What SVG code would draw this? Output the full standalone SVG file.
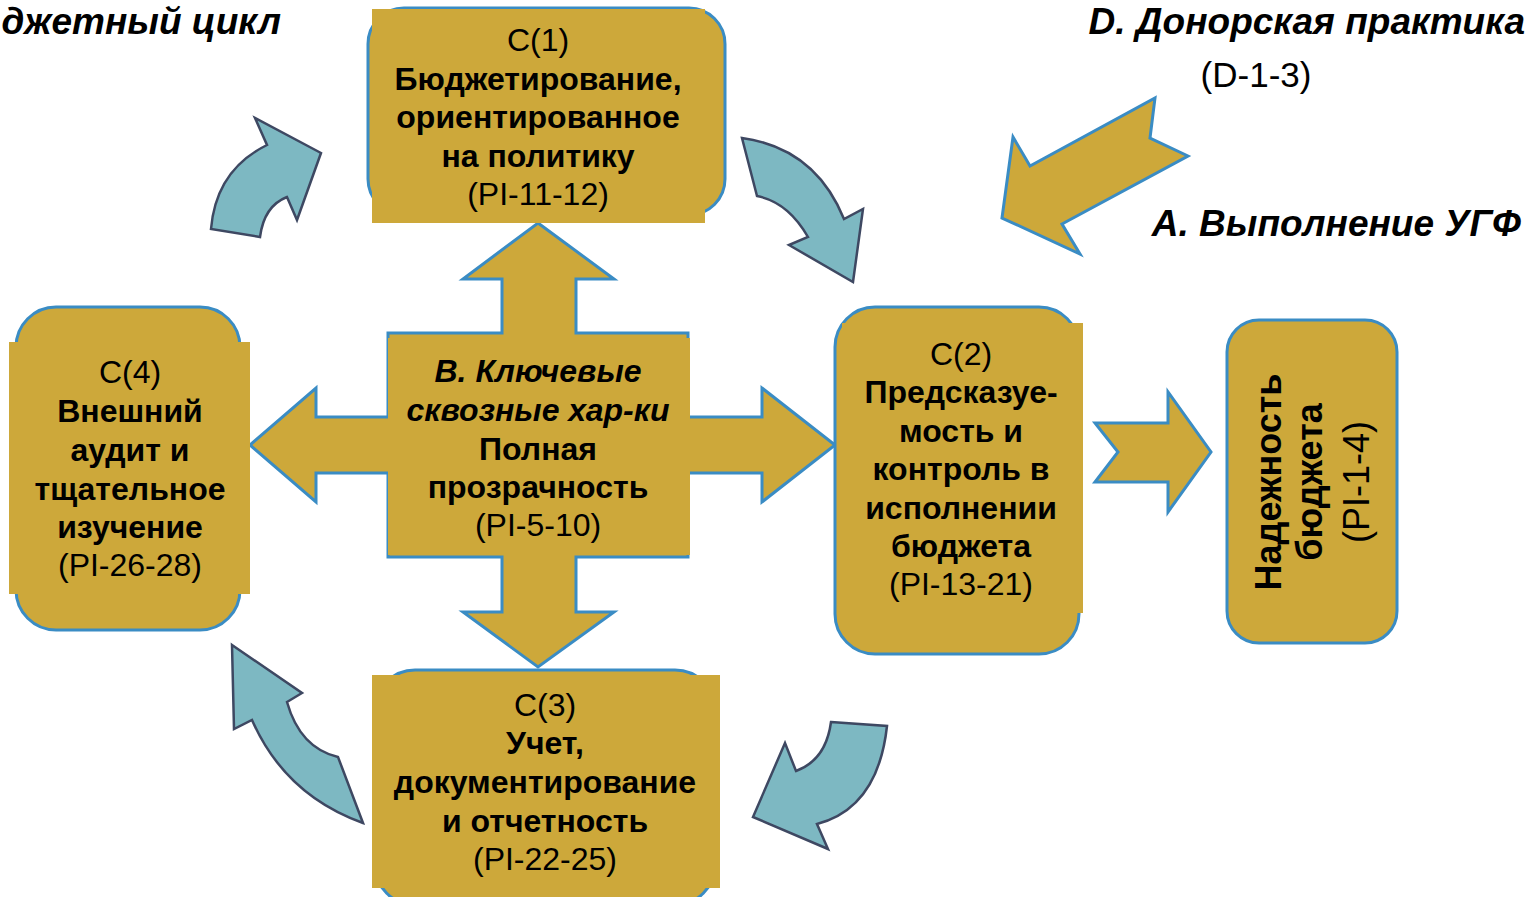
<svg xmlns="http://www.w3.org/2000/svg" width="1528" height="897" viewBox="0 0 1528 897">
<style>
.frame{fill:#CDA83A;stroke:#3A8CC4;stroke-width:3}
.box{fill:#CDA83A}
.cycle{fill:#7DB8C2;stroke:#3E4862;stroke-width:2.5;stroke-linejoin:miter}
.block{fill:#CDA83A;stroke:#3A8CC4;stroke-width:3;stroke-linejoin:miter}
text{font-family:"Liberation Sans",Arial,sans-serif;font-size:32px;fill:#000;text-anchor:middle}
.b{font-weight:bold}
.bi{font-weight:bold;font-style:italic}
.t{font-weight:bold;font-style:italic;font-size:37px}
</style>
<rect width="1528" height="897" fill="#fff"/>
<g id="titles">
<text class="t" x="281" y="34" style="text-anchor:end">джетный цикл</text>
<text class="t" x="1525" y="34" style="text-anchor:end">D. Донорская практика</text>
<text x="1256" y="87" style="font-size:35px">(D-1-3)</text>
<text class="t" x="1521" y="236" style="text-anchor:end">A. Выполнение УГФ</text>
</g>
<g id="connectors">
<path class="block" d="M538,223 L614,279 L576,279 L576,333 L688,333 L688,417 L762,417 L762,388 L835,445 L762,502 L762,473 L688,473 L688,557 L576,557 L576,612 L614,612 L538,667 L463,612 L502,612 L502,557 L388,557 L388,473 L316,473 L316,502 L250,445 L316,388 L316,417 L388,417 L388,333 L502,333 L502,279 L463,279 Z"/>
<path class="block" d="M1002,218 L1013,137 L1030,166 L1155,98 L1150,138 L1188,156 L1062,224 L1080,254 Z"/>
<path class="block" d="M1095,423 L1168,423 L1168,392 L1211,452 L1168,512 L1168,482 L1095,482 L1118,452 Z"/>
<path class="cycle" d="M211,229 Q216,170 267,145 L255,118 L321,153 L297,220 L287,197 Q264,206 260,237 Z"/>
<path class="cycle" d="M742,138 Q815,148 844,219 L863,209 L853,282 L789,245 L808,237 Q788,202 757,196 Z"/>
<path class="cycle" d="M831,722 L887,726 Q878,808 817,824 L828,849 L753,817 L785,743 L796,771 Q826,760 831,722 Z"/>
<path class="cycle" d="M232,645 L302,693 L287,702 Q300,748 338,757 L363,823 Q285,795 252,720 L234,729 Z"/>
</g>
<g id="node-c1">
<rect class="frame" x="368" y="8" width="357" height="207" rx="36"/>
<rect class="box" x="372" y="9" width="333" height="214"/>
<text x="538" y="51">C(1)</text>
<text class="b" x="538" y="89.5">Бюджетирование,</text>
<text class="b" x="538" y="128">ориентированное</text>
<text class="b" x="538" y="166.5">на политику</text>
<text x="538" y="205">(PI-11-12)</text>
</g>
<g id="node-b">
<rect class="box" x="388" y="338" width="302" height="217"/>
<text class="bi" x="538" y="382">B. Ключевые</text>
<text class="bi" x="538" y="421">сквозные хар-ки</text>
<text class="b" x="538" y="460">Полная</text>
<text class="b" x="538" y="498">прозрачность</text>
<text x="538" y="536">(PI-5-10)</text>
</g>
<g id="node-c2">
<rect class="frame" x="835" y="307" width="244" height="347" rx="40"/>
<rect class="box" x="842" y="323" width="241" height="290"/>
<text x="961" y="365">C(2)</text>
<text class="b" x="961" y="403">Предсказуе-</text>
<text class="b" x="961" y="442">мость и</text>
<text class="b" x="961" y="480">контроль в</text>
<text class="b" x="961" y="519">исполнении</text>
<text class="b" x="961" y="557">бюджета</text>
<text x="961" y="595">(PI-13-21)</text>
</g>
<g id="node-c4">
<rect class="frame" x="16" y="307" width="224" height="323" rx="40"/>
<rect class="box" x="9" y="342" width="241" height="252"/>
<text x="130" y="383">C(4)</text>
<text class="b" x="130" y="422">Внешний</text>
<text class="b" x="130" y="461">аудит и</text>
<text class="b" x="130" y="500">тщательное</text>
<text class="b" x="130" y="538">изучение</text>
<text x="130" y="576">(PI-26-28)</text>
</g>
<g id="node-c3">
<rect class="frame" x="375" y="670" width="340" height="235" rx="40"/>
<rect class="box" x="372" y="675" width="348" height="213"/>
<text x="545" y="716">C(3)</text>
<text class="b" x="545" y="754">Учет,</text>
<text class="b" x="545" y="793">документирование</text>
<text class="b" x="545" y="832">и отчетность</text>
<text x="545" y="870">(PI-22-25)</text>
</g>
<g id="node-reliability">
<rect class="frame" x="1227" y="320" width="170" height="323" rx="32"/>
<text class="b" style="font-size:36px" transform="translate(1281,482) rotate(-90)">Надежность</text>
<text class="b" style="font-size:36px" transform="translate(1322,482) rotate(-90)">бюджета</text>
<text style="font-size:36px" transform="translate(1369,482) rotate(-90)">(PI-1-4)</text>
</g>
</svg>
